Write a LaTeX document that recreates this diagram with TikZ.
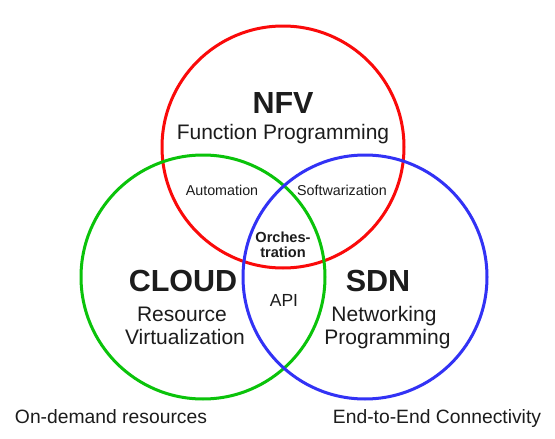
\documentclass[tikz,border=0pt]{standalone}
\usepackage{fontspec}
\setmainfont{Liberation Sans}
\definecolor{cred}{RGB}{250,10,10}
\definecolor{cgreen}{RGB}{10,195,10}
\definecolor{cblue}{RGB}{50,50,245}
\definecolor{ctext}{RGB}{28,28,28}
\begin{document}
\begin{tikzpicture}[x=1pt,y=-1pt,
  ring/.style={line width=3pt},
  lbl/.style={anchor=base,inner sep=0pt,text=ctext},
  big/.style={lbl,font=\fontsize{30.5}{32}\selectfont\bfseries},
  mid/.style={lbl,font=\fontsize{21}{24}\selectfont},
  sml/.style={lbl,font=\fontsize{14.3}{16}\selectfont},
  smb/.style={lbl,font=\fontsize{14.6}{16}\selectfont\bfseries},
  api/.style={lbl,font=\fontsize{17.5}{19}\selectfont},
  foot/.style={lbl,font=\fontsize{19.3}{22}\selectfont}]
\useasboundingbox (0,0) rectangle (555,439);
\fill[white] (0,0) rectangle (555,439);
\draw[ring,cred] (283,147) circle[radius=121];
\draw[ring,cgreen] (203,277) circle[radius=122];
\draw[ring,cblue] (365,277) circle[radius=122];
\node[big] (nfv) at (283,113) {NFV};
\node[mid] (fp) at (283,139) {Function Programming};
\node[big] (cloud) at (183,291) {CLOUD};
\node[mid] (res) at (182,321) {Resource};
\node[mid] (virt) at (185,344) {Virtualization};
\node[big] (sdn) at (378,291) {SDN};
\node[mid] (net) at (384,321) {Networking};
\node[mid] (prog) at (387.5,344) {Programming};
\node[sml] (auto) at (222,195) {Automation};
\node[sml] (soft) at (342,195) {Softwarization};
\node[smb] (orch) at (283,242) {Orches-};
\node[smb] (trat) at (283,257) {tration};
\node[api] (api) at (284,306) {API};
\node[foot] (ond) at (111,423) {On-demand resources};
\node[foot] (e2e) at (437,423) {End-to-End Connectivity};
\end{tikzpicture}
\end{document}
